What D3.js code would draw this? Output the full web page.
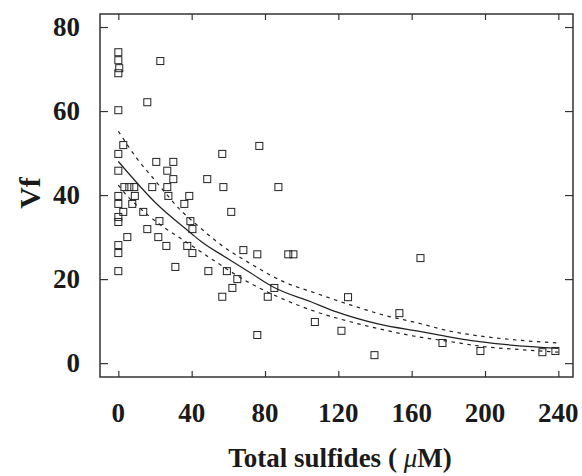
<!doctype html>
<html>
  <head>
    <script src="https://cdn.jsdelivr.net/npm/d3@7/dist/d3.min.js"></script>
    <style>
      body { margin: 0; background: #fff; }
      text { font-family: "Liberation Serif", "Times New Roman", serif; font-weight: bold; fill: #1a1a1a; }
    </style>
  </head>
  <body>
    <svg id="chart" width="582" height="476"></svg>
    <script>
      // observed points: total sulfides (uM) and Vf
      var sulfide = [0, 0, 0.5, 0, 22.9, 0, 15.8, 2.7, 76.9, 0, 56.7, 20.7, 30, 0, 26.7, 30, 48.5,
        3.3, 6, 8.7, 18.5, 26.7, 57.3, 87.3, 0, 9, 27.3, 38.7, 0, 7.6, 36, 2.7, 13.6, 61.6,
        0, 0, 22.4, 39.3, 15.8, 40.4, 4.9, 21.8, 0, 26.2, 37.6, 68.2, 0, 40.4, 75.8, 92.7, 95.5,
        164.8, 31.1, 0, 49.1, 59.2, 64.9, 62.2, 85.1, 56.7, 81.5, 125.3, 153.3, 107.2, 121.7,
        75.8, 139.7, 176.8, 197.5, 231.3, 238.4];
      var vf = [74.0, 72.1, 70.2, 69.0, 71.9, 60.2, 62.1, 51.9, 51.7, 49.8, 49.8, 47.9, 47.9, 45.8, 45.8, 43.8, 43.8,
        41.9, 41.9, 41.9, 41.9, 41.9, 41.9, 41.9, 39.8, 39.8, 39.8, 39.8, 37.9, 37.9, 37.9, 36, 36, 36,
        34.8, 33.6, 33.8, 33.8, 31.9, 31.9, 30, 30, 28.1, 27.9, 27.9, 26.9, 26.2, 26.2, 25.9, 25.9, 25.9,
        25, 22.9, 21.9, 21.9, 21.9, 20, 17.9, 17.9, 15.8, 15.8, 15.7, 11.9, 9.8, 7.7,
        6.7, 1.9, 4.8, 2.9, 2.6, 2.9];

      // fitted curve and confidence band
      var fitX = [0, 20, 40, 45, 60, 72, 85, 105, 119, 141, 165, 197, 240];
      var fitY = [48, 38.3, 30.8, 29, 24.8, 21.5, 18, 14.6, 12.2, 9.4, 7.5, 5.1, 3.5];
      var upperX = [0, 10, 20, 34, 45, 54, 72, 90, 108, 127, 145, 163, 180, 200, 220, 240];
      var upperY = [55.2, 48.8, 43.5, 36.4, 32.1, 28.8, 23.7, 19.4, 16.6, 13.8, 11.4, 9.6, 7.7, 6.3, 5.4, 4.8];
      var lowerX = [0, 4.4, 10, 23, 34, 45, 72, 87, 108, 127, 145, 163, 180, 200, 220, 240];
      var lowerY = [42.4, 40, 37.6, 32.9, 29.7, 26.5, 19, 15.8, 12.2, 9.8, 7.9, 6.3, 5.2, 3.9, 3.2, 2.6];

      var xTicks = [0, 40, 80, 120, 160, 200, 240];
      var yTicks = [0, 20, 40, 60, 80];

      var svg = d3.select("#chart");
      var plotL = 100, plotR = 573, plotT = 14, plotB = 377;

      var xScale = d3.scaleLinear().domain([-10, 248]).range([plotL, plotR]);
      var yScale = d3.scaleLinear().domain([-3.3, 83.1]).range([plotB, plotT]);

      // inward ticks on all four sides
      svg.append("g")
        .attr("transform", "translate(0," + plotB + ")")
        .call(d3.axisTop(xScale).tickValues(xTicks).tickSize(6).tickFormat(""))
        .call(g => g.select(".domain").remove());
      svg.append("g")
        .attr("transform", "translate(0," + plotT + ")")
        .call(d3.axisBottom(xScale).tickValues(xTicks).tickSize(6).tickFormat(""))
        .call(g => g.select(".domain").remove());
      svg.append("g")
        .attr("transform", "translate(" + plotL + ",0)")
        .call(d3.axisRight(yScale).tickValues(yTicks).tickSize(8).tickFormat(""))
        .call(g => g.select(".domain").remove());
      svg.append("g")
        .attr("transform", "translate(" + plotR + ",0)")
        .call(d3.axisLeft(yScale).tickValues(yTicks).tickSize(8).tickFormat(""))
        .call(g => g.select(".domain").remove());
      svg.selectAll(".tick line").style("stroke", "#333").style("stroke-width", 1.2);

      svg.append("rect")
        .attr("x", plotL).attr("y", plotT)
        .attr("width", plotR - plotL).attr("height", plotB - plotT)
        .style("fill", "none").style("stroke", "#333").style("stroke-width", 1.5);

      // tick labels
      svg.selectAll("text.xlab")
        .data(xTicks).enter()
        .append("text")
          .attr("class", "xlab")
          .attr("x", d => xScale(d))
          .attr("y", 422)
          .attr("text-anchor", "middle")
          .style("font-size", "27px")
          .text(d => d);
      svg.selectAll("text.ylab")
        .data(yTicks).enter()
        .append("text")
          .attr("class", "ylab")
          .attr("x", 80)
          .attr("y", d => yScale(d) + 9)
          .attr("text-anchor", "end")
          .style("font-size", "27px")
          .text(d => d);

      // axis titles
      var xt = svg.append("text")
        .attr("x", 340).attr("y", 467)
        .attr("text-anchor", "middle")
        .style("font-size", "27px");
      xt.append("tspan").text("Total sulfides ( ");
      xt.append("tspan").style("font-style", "italic").style("font-weight", "normal").text("\u03bc");
      xt.append("tspan").text("M)");

      svg.append("text")
        .attr("transform", "translate(40,193) rotate(-90)")
        .attr("text-anchor", "middle")
        .style("font-size", "30px")
        .text("Vf");

      // curves
      var line = d3.line()
        .x(d => xScale(d[0]))
        .y(d => yScale(d[1]))
        .curve(d3.curveMonotoneX);

      svg.append("path")
        .datum(d3.zip(fitX, fitY))
        .attr("d", line)
        .style("fill", "none").style("stroke", "#222").style("stroke-width", 1.2);
      [d3.zip(upperX, upperY), d3.zip(lowerX, lowerY)].forEach(function(band) {
        svg.append("path")
          .datum(band)
          .attr("d", line)
          .style("fill", "none").style("stroke", "#222").style("stroke-width", 1.2)
          .style("stroke-dasharray", "3.5,4.5");
      });

      // squares
      svg.selectAll("rect.pt")
        .data(d3.zip(sulfide, vf)).enter()
        .append("rect")
          .attr("class", "pt")
          .attr("x", d => xScale(d[0]) - 3.5)
          .attr("y", d => yScale(d[1]) - 3.5)
          .attr("width", 7)
          .attr("height", 7)
          .style("fill", "none")
          .style("stroke", "#222")
          .style("stroke-width", 1);
    </script>
  </body>
</html>
